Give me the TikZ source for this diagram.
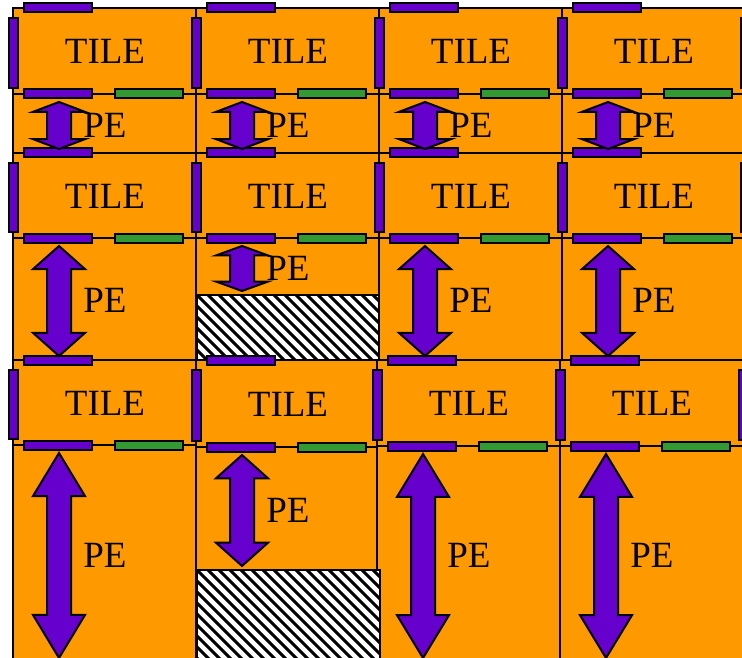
\documentclass[tikz,border=0pt]{standalone}
\usepackage{fontspec}
\setmainfont{Liberation Serif}
\definecolor{tileorange}{RGB}{255,153,0}
\definecolor{linkpurple}{RGB}{102,0,204}
\definecolor{linkgreen}{RGB}{51,153,51}
\usetikzlibrary{calc}

% tiles and PE regions: x left / x right / y top / y bottom (pixels, y down)
\def\tilelist{13/196/8/94, 196/379/8/94, 379/562/8/94, 562/745/8/94,
  13/196/153/238, 196/379/153/238, 379/562/153/238, 562/745/153/238,
  13/196/360/445, 196/377/360/447, 377/560/360/446, 560/745/360/446}
\def\pelist{13/196/94/153, 196/379/94/153, 379/562/94/153, 562/745/94/153,
  13/196/238/360, 196/379/238/295, 379/562/238/360, 562/745/238/360,
  13/196/445/662, 196/377/447/570, 377/560/446/662, 560/745/446/662}

\begin{document}
\begin{tikzpicture}[x=1pt, y=-1pt,
  tilebox/.style={draw=black, line width=1.8pt, fill=tileorange},
  purplebar/.style={draw=black, line width=2pt, fill=linkpurple},
  greenbar/.style={draw=black, line width=2pt, fill=linkgreen},
  pearrow/.style={draw=black, line width=2pt, fill=linkpurple, line join=miter},
  boxtext/.style={font=\fontsize{37}{40}\selectfont, inner sep=0pt}]

\useasboundingbox (0,0) rectangle (742,658);
\clip (0,0) rectangle (742,658);

\foreach \xa/\xb/\ya/\yb in \tilelist
  \draw[tilebox] (\xa,\ya) rectangle (\xb,\yb);
\foreach \xa/\xb/\ya/\yb in \pelist
  \draw[tilebox] (\xa,\ya) rectangle (\xb,\yb);

% blocked areas
\foreach \xa/\xb/\ya/\yb in {197/379/295/360, 197/380/570/670} {
  \begin{scope}
    \clip (\xa,\ya) rectangle (\xb,\yb);
    \fill[white] (\xa,\ya) rectangle (\xb,\yb);
    \foreach \s in {-121,-110,...,400}
      \draw[line width=3pt] ({\xa+\s},\ya) -- ++(120,120);
  \end{scope}
  \draw[line width=1.8pt] (\xa,\ya) rectangle (\xb,\yb);
}

% links
\foreach \xa/\xb/\ya/\yb in \tilelist {
  \draw[purplebar] ({\xa-4.5},{\ya+10}) rectangle ({\xa+4.5},{\yb-6});
  \draw[purplebar] ({\xa+11},{\ya-4.5}) rectangle ({\xa+79},{\ya+4.5});
  \draw[purplebar] ({\xa+11},{\yb-4.5}) rectangle ({\xa+79},{\yb+4.5});
  \draw[greenbar] ({\xa+102},{\yb-4.5}) rectangle ({\xa+170},{\yb+4.5});
}
\foreach \xa/\ya/\yb in {745/8/94, 745/153/238, 743/360/446}
  \draw[purplebar] ({\xa-4.5},{\ya+10}) rectangle ({\xa+4.5},{\yb-6});

% PE arrows
\foreach \xa/\xb/\ya/\yb in \pelist {
  \pgfmathsetmacro{\cx}{\xa+46}
  \pgfmathsetmacro{\ta}{\ya+8}
  \pgfmathsetmacro{\tb}{\yb-4}
  \pgfmathsetmacro{\hh}{0.21*(\tb-\ta)}
  \draw[pearrow] (\cx,\ta) -- ({\cx+26},{\ta+\hh}) -- ({\cx+12},{\ta+\hh})
    -- ({\cx+12},{\tb-\hh}) -- ({\cx+26},{\tb-\hh}) -- (\cx,\tb)
    -- ({\cx-26},{\tb-\hh}) -- ({\cx-12},{\tb-\hh}) -- ({\cx-12},{\ta+\hh})
    -- ({\cx-26},{\ta+\hh}) -- cycle;
}

\foreach \xa/\xb/\ya/\yb [count=\i] in \tilelist
  \node[boxtext] (tile\i) at ({\xa+92},{(\ya+\yb)/2+0.5}) {TILE};
\foreach \xa/\xb/\ya/\yb [count=\i] in \pelist
  \node[boxtext] (pe\i) at ({\xa+92},{(\ya+\yb)/2+1.5}) {PE};

\end{tikzpicture}
\end{document}
